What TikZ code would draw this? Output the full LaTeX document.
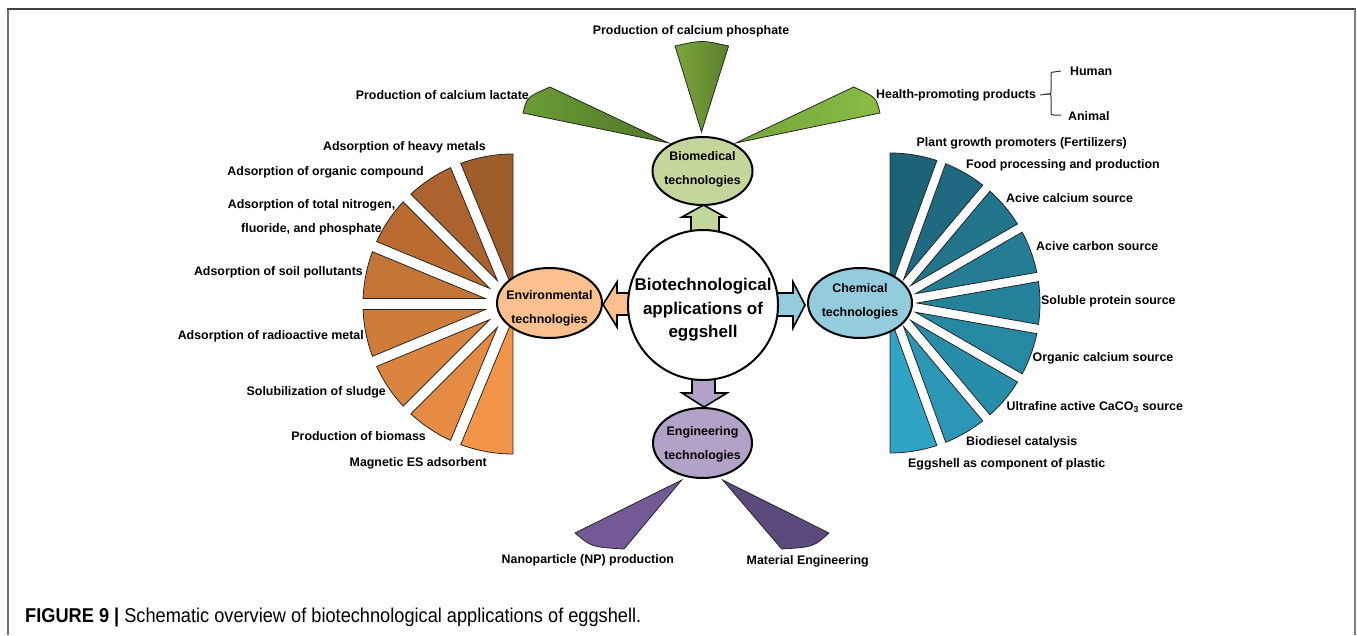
\documentclass[tikz,border=0pt]{standalone}
\usepackage{fontspec}
\setmainfont{Liberation Sans}
\newfontfamily\capfont[FakeStretch=0.91]{Liberation Sans}
\usetikzlibrary{calc,shapes.geometric}

\definecolor{bioC}{HTML}{C3D69B}
\definecolor{envC}{HTML}{FAC08F}
\definecolor{chemC}{HTML}{93CDDD}
\definecolor{engC}{HTML}{B3A2C7}
\definecolor{env1}{HTML}{9C5D2A}
\definecolor{env2}{HTML}{AC632D}
\definecolor{env3}{HTML}{B96B32}
\definecolor{env4}{HTML}{C47538}
\definecolor{env5}{HTML}{CF7C3B}
\definecolor{env6}{HTML}{DA8440}
\definecolor{env7}{HTML}{E68B44}
\definecolor{env8}{HTML}{F29549}
\definecolor{ch1}{HTML}{1D6377}
\definecolor{ch2}{HTML}{1F6A80}
\definecolor{ch3}{HTML}{22748B}
\definecolor{ch4}{HTML}{247C95}
\definecolor{ch5}{HTML}{25829B}
\definecolor{ch6}{HTML}{2788A3}
\definecolor{ch7}{HTML}{288DA9}
\definecolor{ch8}{HTML}{2C97B5}
\definecolor{ch9}{HTML}{31A3C4}
\definecolor{grn1a}{HTML}{6C9B36}
\definecolor{grn1b}{HTML}{4F7727}
\definecolor{grn2a}{HTML}{7BA63C}
\definecolor{grn2b}{HTML}{5A7F2B}
\definecolor{grn3a}{HTML}{74A439}
\definecolor{grn3b}{HTML}{8ABC46}
\definecolor{pur1}{HTML}{735A96}
\definecolor{pur2}{HTML}{5D4A7D}

% #1 cx, #2 cy, #3 a1, #4 a2, #5 g1, #6 g2, #7 R, #8 colour
\newcommand{\fanwedge}[8]{%
  \pgfmathsetmacro\wqx{(#5*cos(#4)+#6*cos(#3))/sin(#4-#3)}%
  \pgfmathsetmacro\wqy{(#6*sin(#3)+#5*sin(#4))/sin(#4-#3)}%
  \pgfmathsetmacro\wsa{#3+asin(#5/#7)}%
  \pgfmathsetmacro\wea{#4-asin(#6/#7)}%
  \filldraw[wedgeshape, fill=#8] ($(#1,#2)+(\wqx,\wqy)$) -- ($(#1,#2)+(\wsa:#7)$)
    arc[start angle=\wsa, end angle=\wea, radius=#7] -- cycle;%
}

\begin{document}
\begin{tikzpicture}[x=1pt,y=-1pt,
  every node/.style={inner sep=0pt},
  lbl/.style={font={\fontsize{12.4}{24}\selectfont\bfseries}, align=center},
  bigtxt/.style={font={\fontsize{17}{23.5}\selectfont\bfseries}, align=center},
  wedgeshape/.style={draw=black!85, line width=0.8pt},
  blockarrow/.style={draw=black, line width=1.6pt, line join=miter},
  techell/.style={ellipse, draw=black, line width=2pt, inner sep=0pt},
  framelinetop/.style={draw=black!75, line width=2pt},
  framelineside/.style={draw=black!55, line width=1.5pt},
  bracelinestyle/.style={draw=black!80, line width=1pt}]

\useasboundingbox (0,0) rectangle (1357,635);

% frame
\draw[framelineside] (8,635) -- (8,9);
\draw[framelinetop] (7.3,9) -- (1355.7,9);
\draw[framelineside, line width=2.5pt, draw=black!50] (1355,9) -- (1355,635);

% ---- environmental fan ----
\fanwedge{513}{304}{90}{112.5}{0}{5.5}{150}{env8}
\fanwedge{513}{304}{112.5}{135}{5.5}{5.5}{150}{env7}
\fanwedge{513}{304}{135}{157.5}{5.5}{5.5}{150}{env6}
\fanwedge{513}{304}{157.5}{180}{5.5}{5.5}{150}{env5}
\fanwedge{513}{304}{180}{202.5}{5.5}{5.5}{150}{env4}
\fanwedge{513}{304}{202.5}{225}{5.5}{5.5}{150}{env3}
\fanwedge{513}{304}{225}{247.5}{5.5}{5.5}{150}{env2}
\fanwedge{513}{304}{247.5}{270}{5.5}{0}{150}{env1}

% ---- chemical fan ----
\fanwedge{890}{303}{-90}{-70}{0}{4.7}{150}{ch1}
\fanwedge{890}{303}{-70}{-50}{4.7}{4.7}{150}{ch2}
\fanwedge{890}{303}{-50}{-30}{4.7}{4.7}{150}{ch3}
\fanwedge{890}{303}{-30}{-10}{4.7}{4.7}{150}{ch4}
\fanwedge{890}{303}{-10}{10}{4.7}{4.7}{150}{ch5}
\fanwedge{890}{303}{10}{30}{4.7}{4.7}{150}{ch6}
\fanwedge{890}{303}{30}{50}{4.7}{4.7}{150}{ch7}
\fanwedge{890}{303}{50}{70}{4.7}{4.7}{150}{ch8}
\fanwedge{890}{303}{70}{90}{4.7}{0}{150}{ch9}

% ---- biomedical wedges ----
\shadedraw[wedgeshape, left color=grn1a, right color=grn1b] (668.6,143) -- (523,113) .. controls (527,97) .. (550,87) -- cycle;
\shadedraw[wedgeshape, left color=grn2a, right color=grn2b] (701.5,132) -- (675,46) .. controls (702,40) .. (728.6,46) -- cycle;
\shadedraw[wedgeshape, left color=grn3a, right color=grn3b] (735.7,143) -- (853.6,87) .. controls (876,97) .. (880,113) -- cycle;

% ---- engineering wedges ----
\filldraw[wedgeshape, fill=pur1] (681.7,480) -- (575,533) .. controls (591.5,547) .. (624,549) -- cycle;
\filldraw[wedgeshape, fill=pur2] (722.7,480) -- (829,533) .. controls (813.5,547) .. (781.7,549) -- cycle;

% ---- block arrows ----
\filldraw[blockarrow, fill=bioC] (691,234) -- (691,217) -- (682,217) -- (703.5,205) -- (725,217) -- (719,217) -- (719,234) -- cycle;
\filldraw[blockarrow, fill=envC] (634,293) -- (617,293) -- (617,282) -- (603,304.5) -- (617,327) -- (617,315) -- (634,315) -- cycle;
\filldraw[blockarrow, fill=chemC] (772,293) -- (793,293) -- (793,282) -- (805,305) -- (793,328) -- (793,316) -- (772,316) -- cycle;
\filldraw[blockarrow, fill=engC] (692,376) -- (692,393) -- (682,393) -- (704,407) -- (727,393) -- (715,393) -- (715,376) -- cycle;

% ---- centre circle and technology ellipses ----
\node[circle, draw=black, line width=2pt, fill=white, minimum size=150pt] (hub) at (703,305) {};
\node[bigtxt] (hubtxt) at (703,310) {Biotechnological\\applications of\\eggshell};

\node[techell, fill=bioC, minimum width=100pt, minimum height=68pt] (bio) at (702.5,171) {};
\node[lbl] (biotxt) at (702.5,169.5) {Biomedical\\technologies};
\node[techell, fill=envC, minimum width=105pt, minimum height=70pt] (env) at (549.5,303) {};
\node[lbl] (envtxt) at (549.5,308.5) {Environmental\\technologies};
\node[techell, fill=chemC, minimum width=104pt, minimum height=70pt] (chem) at (860,303) {};
\node[lbl] (chemtxt) at (860,301) {Chemical\\technologies};
\node[techell, fill=engC, minimum width=99pt, minimum height=70pt] (eng) at (702.5,443) {};
\node[lbl] (engtxt) at (702.5,444) {Engineering\\technologies};

% ---- biomedical labels ----
\node[lbl] (lphos) at (691,31) {Production of calcium phosphate};
\node[lbl, anchor=east] (llact) at (529,95) {Production of calcium lactate};
\node[lbl, anchor=west] (lhealth) at (876,95) {Health-promoting products};
\node[lbl, anchor=west] (lhuman) at (1070,71) {Human};
\node[lbl, anchor=west] (lanimal) at (1068,116) {Animal};
\coordinate (brmid) at (1048,94);
\draw[bracelinestyle] ([xshift=4pt]lhealth.east) -- (brmid);
\draw[bracelinestyle] ([xshift=-9pt]lhuman.west) -- (1054,72) .. controls (1051,72) .. (1051,75) -- (1051,91)
  .. controls (1051,94) .. (brmid) .. controls (1051,94) .. (1051,97) -- (1051,112)
  .. controls (1051,115) .. (1054,115) -- ([xshift=-7pt]lanimal.west |- 0,115);

% ---- environmental labels ----
\node[lbl, anchor=east] (e1) at (486,147) {Adsorption of heavy metals};
\node[lbl, anchor=east] (e2) at (424,172.5) {Adsorption of organic compound};
\node[lbl] (e3) at (311.5,217) {Adsorption of total nitrogen,\\fluoride, and phosphate};
\node[lbl, anchor=east] (e4) at (363,272.5) {Adsorption of soil pollutants};
\node[lbl, anchor=east] (e5) at (364,336.5) {Adsorption of radioactive metal};
\node[lbl, anchor=east] (e6) at (386,392.5) {Solubilization of sludge};
\node[lbl, anchor=east] (e7) at (426,436) {Production of biomass};
\node[lbl, anchor=east] (e8) at (487,463.5) {Magnetic ES adsorbent};

% ---- chemical labels ----
\node[lbl, anchor=west] (c1) at (916.5,143.5) {Plant growth promoters (Fertilizers)};
\node[lbl, anchor=west] (c2) at (966,165.5) {Food processing and production};
\node[lbl, anchor=west] (c3) at (1006,198) {Acive calcium source};
\node[lbl, anchor=west] (c4) at (1036,246.5) {Acive carbon source};
\node[lbl, anchor=west] (c5) at (1041,301.5) {Soluble protein source};
\node[lbl, anchor=west] (c6) at (1032.5,358) {Organic calcium source};
\node[lbl, anchor=west] (c7) at (1006.5,407.5) {Ultrafine active CaCO\textsubscript{3} source};
\node[lbl, anchor=west] (c8) at (966,442.5) {Biodiesel catalysis};
\node[lbl, anchor=west] (c9) at (908,464.5) {Eggshell as component of plastic};

% ---- engineering labels ----
\node[lbl, anchor=west] (g1) at (501.5,560) {Nanoparticle (NP) production};
\node[lbl, anchor=west] (g2) at (746.5,561) {Material Engineering};

% ---- caption ----
\node[anchor=base west, font={\capfont\fontsize{20}{24}\selectfont}] (caption) at (25,622)
  {\textbf{FIGURE 9 |} Schematic overview of biotechnological applications of eggshell.};
\end{tikzpicture}
\end{document}
